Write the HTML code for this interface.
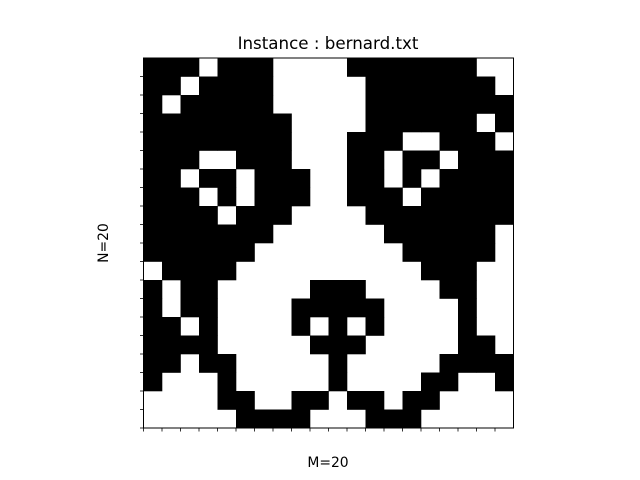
<!DOCTYPE html>
<html><head><meta charset="utf-8"><style>
html,body{margin:0;padding:0;background:#fff;}
svg{display:block;font-family:"DejaVu Sans","Liberation Sans",sans-serif;}
</style></head><body>
<svg id="chart" width="640" height="480">
<rect width="640" height="480" fill="#fff"/>
<text x="328" y="49" font-size="16.7" text-anchor="middle">Instance : bernard.txt</text>
<text x="328" y="467" font-size="13.9" text-anchor="middle">M=20</text>
<text x="108" y="243" font-size="13.9" text-anchor="middle" transform="rotate(-90 108 243)">N=20</text>
<g id="cells"></g>
<g id="ticks"></g>
<rect x="143.5" y="58" width="370" height="370" fill="none" stroke="#000" stroke-width="1"/>
</svg>
<script>
const rows = [
"11101110000111111100",
"11011110000011111110",
"10111110000011111111",
"11111111000011111101",
"11111111000111001110",
"11100111000110110111",
"11011011100110101111",
"11101011100111011111",
"11110111000011111111",
"11111110000001111110",
"11111100000000111110",
"01111000000000011100",
"10110000011100001100",
"10110000111110000100",
"11010000101010000100",
"11110000011100000110",
"11011000001000001111",
"10001000001000011001",
"00001100110110110000",
"00000111100011100000"
];
const nRows = 20, nCols = 20;
const L = 143.5, T = 58, S = 370;
const cw = S / nCols, ch = S / nRows;
const xs = c => L + c * cw;
const ys = r => T + r * ch;
const NS = "http://www.w3.org/2000/svg";
const g = document.getElementById('cells');
rows.forEach((row, r) => {
  [...row].forEach((v, c) => {
    if (v === '1') {
      const el = document.createElementNS(NS, 'rect');
      el.setAttribute('x', xs(c)); el.setAttribute('y', ys(r));
      el.setAttribute('width', cw + 0.3); el.setAttribute('height', ch + 0.3);
      el.setAttribute('fill', '#000');
      
      
      g.appendChild(el);
    }
  });
});
const tg = document.getElementById('ticks');
for (let i = 0; i < nCols; i++) {
  const t = document.createElementNS(NS, 'line');
  t.setAttribute('x1', xs(i)); t.setAttribute('x2', xs(i));
  t.setAttribute('y1', T + S); t.setAttribute('y2', T + S + 3.5);
  t.setAttribute('stroke', '#000'); t.setAttribute('stroke-width', '0.8');
  
  
  tg.appendChild(t);
}
for (let i = 1; i <= nRows; i++) {
  const t = document.createElementNS(NS, 'line');
  t.setAttribute('y1', ys(i)); t.setAttribute('y2', ys(i));
  t.setAttribute('x1', L); t.setAttribute('x2', L - 3.5);
  t.setAttribute('stroke', '#000'); t.setAttribute('stroke-width', '0.8');
  
  
  tg.appendChild(t);
}
</script>
</body></html>
